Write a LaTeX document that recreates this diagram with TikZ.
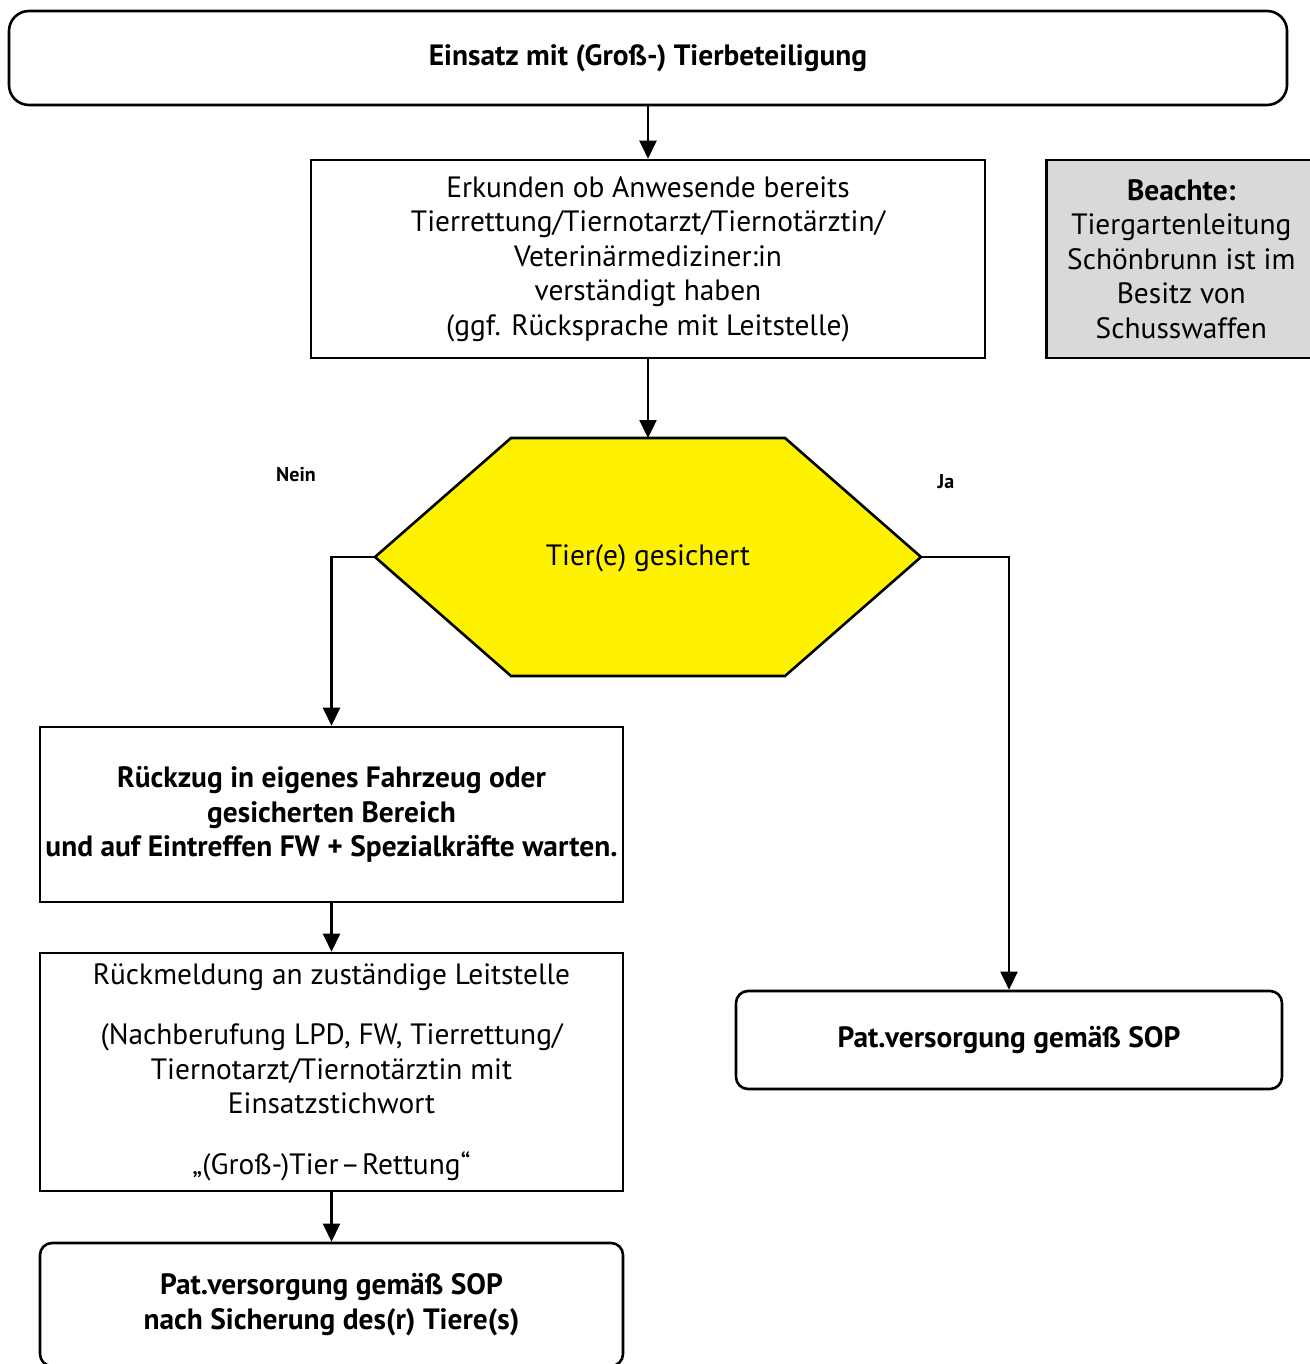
\documentclass[tikz,border=0pt]{standalone}
\usepackage{fontspec}
\setmainfont{PT Sans}
\usetikzlibrary{arrows.meta}
\begin{document}
\begin{tikzpicture}[x=0.5pt,y=-0.5pt,
  every node/.style={font=\fontsize{14.7}{17.25}\selectfont},
  box/.style={draw,line width=1.3pt,inner sep=0pt,align=center},
  rbox/.style={box,rounded corners=6pt},
  note/.style={box,fill=black!15},
  flow/.style={line width=1.2pt,-{Triangle[length=9pt,width=8.5pt]}},
  tag/.style={font=\fontsize{10}{12}\selectfont\bfseries}]
\useasboundingbox (0,0) rectangle (1310,1364);

% start
\node[rbox,rounded corners=10pt,minimum width=639pt,minimum height=47pt] (start) at (648,58)
  {\bfseries Einsatz mit (Groß-) Tierbeteiligung};

% enquiry
\node[box,minimum width=337pt,minimum height=99pt] (erk) at (648,259)
  {Erkunden ob Anwesende bereits\\Tierrettung/Tiernotarzt/Tiernotärztin/\\Veterinärmediziner:in\\verständigt haben\\(ggf. Rücksprache mit Leitstelle)};

% side note (runs past the right edge)
\node[note,minimum width=135pt,minimum height=99pt,anchor=west] (note) at (1045,259)
  {\textbf{Beachte:}\\Tiergartenleitung\\Schönbrunn ist im\\Besitz von\\Schusswaffen};

% decision hexagon
\coordinate (hexT) at (648,438);
\coordinate (hexL) at (375,557);
\coordinate (hexR) at (921,557);
\draw[line width=1.3pt,fill=yellow] (hexL) -- (511,438) -- (785,438) -- (hexR) -- (785,676) -- (511,676) -- cycle;
\node (dec) at (648,558) {Tier(e) gesichert};

\node[tag] (nein) at (296,475) {Nein};
\node[tag] (ja) at (946,482) {Ja};

% "Nein" branch
\node[box,minimum width=291.5pt,minimum height=87.5pt] (rueck) at (331.5,814.5)
  {\bfseries Rückzug in eigenes Fahrzeug oder\\\bfseries gesicherten Bereich\\\bfseries und auf Eintreffen FW + Spezialkräfte warten.};
\node[box,minimum width=291.5pt,minimum height=119pt] (meld) at (331.5,1072)
  {Rückmeldung an zuständige Leitstelle\\[13pt](Nachberufung LPD, FW, Tierrettung/\\Tiernotarzt/Tiernotärztin mit\\Einsatzstichwort\\[13pt]„(Groß-)Tier\kern1pt–\kern1pt Rettung“};
\node[rbox,minimum width=291.5pt,minimum height=61.5pt] (patL) at (331.5,1304.5)
  {\bfseries Pat.versorgung gemäß SOP\\\bfseries nach Sicherung des(r) Tiere(s)};

% "Ja" branch
\node[rbox,minimum width=273pt,minimum height=49pt] (patR) at (1009,1040)
  {\bfseries Pat.versorgung gemäß SOP};

% connectors
\draw[flow] (start.south) -- (erk.north);
\draw[flow] (erk.south) -- (hexT);
\draw[flow] (hexL) -| (rueck.north);
\draw[flow] (hexR) -| (patR.north);
\draw[flow] (rueck.south) -- (meld.north);
\draw[flow] (meld.south) -- (patL.north);
\end{tikzpicture}
\end{document}
